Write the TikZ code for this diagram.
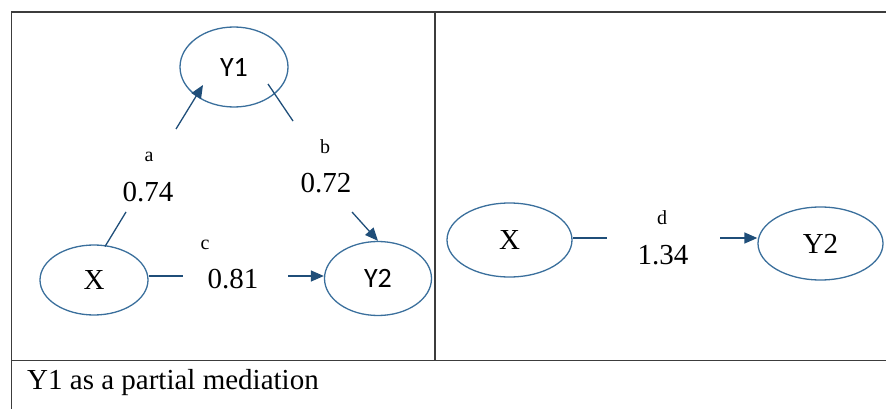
\documentclass[tikz,border=0pt]{standalone}
\usepackage{fontspec}
\setmainfont{Liberation Serif}
\newfontfamily\calib{Carlito}
\usetikzlibrary{arrows.meta,shapes.geometric}
\definecolor{ellcol}{HTML}{3A6F9C}
\definecolor{arrcol}{HTML}{1F4E79}
\definecolor{gridcol}{HTML}{3C3C3C}
\tikzset{
  var/.style={ellipse, draw=ellcol, line width=1.3pt, inner sep=0pt, text=black},
  conn/.style={draw=arrcol, line width=1.3pt},
  arr/.style={conn, -{Triangle[length=13pt,width=11pt]}},
  coef/.style={font=\fontsize{29}{30}\selectfont, inner sep=0pt},
  lab/.style={font=\fontsize{20}{22}\selectfont, inner sep=0pt},
  grid/.style={draw=gridcol, line width=1.3pt}
}
\begin{document}
\begin{tikzpicture}[x=1pt,y=-1pt]
\useasboundingbox (0,0) rectangle (886,409);
% table
\draw[grid] (11.5,409) -- (11.5,12) -- (886,12);
\draw[grid] (11.5,360.5) -- (886,360.5);
\draw[grid] (435,12) -- (435,360.5);
\node[anchor=west, font=\fontsize{29}{30}\selectfont, inner sep=0pt] (cap) at (27,383) {Y1 as a partial mediation};
% left panel nodes
\node[var, minimum width=108pt, minimum height=80pt, font=\calib\fontsize{28}{30}\selectfont] (y1) at (234,67) {Y1};
\node[var, minimum width=108pt, minimum height=70pt, font=\fontsize{29}{30}\selectfont] (x) at (94,280) {X};
\node[var, minimum width=107pt, minimum height=74pt, font=\calib\fontsize{28}{30}\selectfont] (y2) at (378,278.5) {Y2};
% labels
\node[lab] (la) at (149,157) {a};
\node[coef] (va) at (148,192) {0.74};
\node[lab] (lb) at (325,147) {b};
\node[coef] (vb) at (326,183) {0.72};
\node[lab] (lc) at (205,245) {c};
\node[coef] (vc) at (233,279) {0.81};
% gap coordinates
\coordinate (a0) at (105,246.5);
\coordinate (a1) at (126,212);
\coordinate (a2) at (176,129);
\coordinate (a3) at (203,85);
\coordinate (b0) at (268,84);
\coordinate (b1) at (293,121);
\coordinate (b2) at (352,212);
\coordinate (c1) at (183,276);
\coordinate (c2) at (288,276);
% connectors
\draw[conn] (a0) -- (a1);
\draw[arr] (a2) -- (a3);
\draw[conn] (b0) -- (b1);
\draw[arr] (b2) -- (y2.north);
\draw[conn] (c1 -| x.east) -- (c1);
\draw[arr] (c2) -- (c2 -| y2.west);
% right panel
\node[var, minimum width=125pt, minimum height=74pt, font=\fontsize{29}{30}\selectfont] (xr) at (509.5,240) {X};
\node[var, minimum width=125pt, minimum height=73pt, font=\fontsize{29}{30}\selectfont] (y2r) at (820.5,243.5) {Y2};
\node[lab] (ld) at (662,218) {d};
\node[coef] (vd) at (663,255) {1.34};
\coordinate (d1) at (607,238);
\coordinate (d2) at (720,238);
\draw[conn] (xr.east |- d1) -- (d1);
\draw[arr] (d2) -- (d2 -| y2r.west);
\end{tikzpicture}
\end{document}
